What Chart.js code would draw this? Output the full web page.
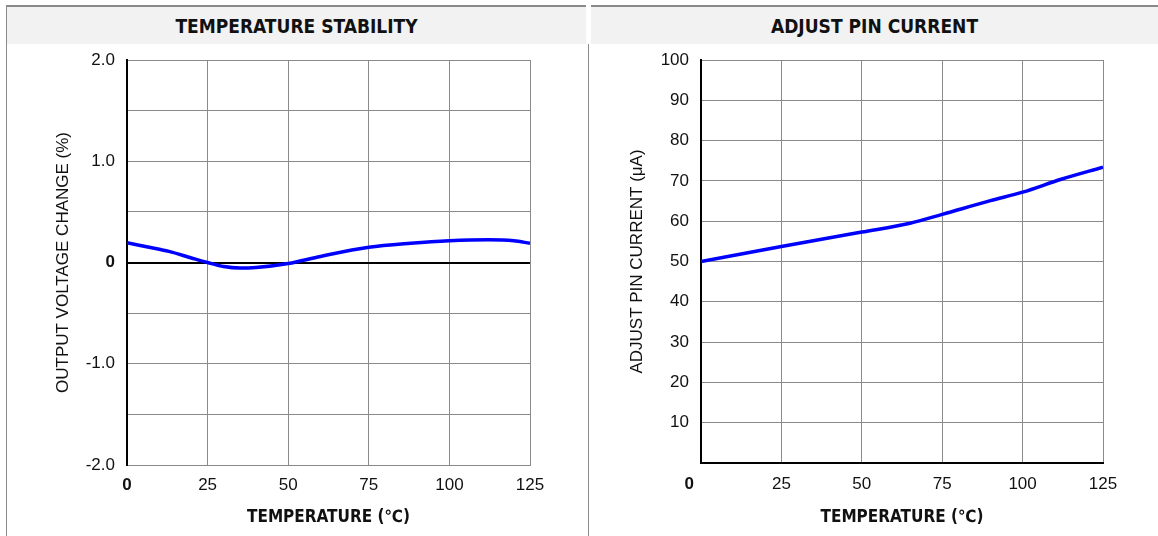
<!DOCTYPE html>
<html>
<head>
<meta charset="utf-8">
<script src="https://cdn.jsdelivr.net/npm/chart.js@4"></script>
<style>
  body { margin: 0; background: #fff; width: 1158px; height: 536px; position: relative; overflow: hidden; }
  .panel { position: absolute; top: 5px; bottom: 0; }
  #p1 { left: 6px; width: 579px; border-left: 1px solid #8a8a8a; }
  #p2 { left: 591px; width: 567px; }
  .head {
    height: 37px; border-top: 2px solid #8a8a8a; background: #f2f2f2;
    text-align: center; color: #111;
    font: bold 19px "Liberation Sans Narrow", "DejaVu Sans Condensed", sans-serif;
    line-height: 38px;
  }
  .panel canvas { position: absolute; top: 39px; left: 0; }
  #divider { position: absolute; left: 588px; top: 44px; bottom: 0; border-left: 1px solid #8a8a8a; }
</style>
</head>
<body>
<div class="panel" id="p1"><div class="head">TEMPERATURE STABILITY</div><canvas id="stabChart" width="578" height="492"></canvas></div>
<div id="divider"></div>
<div class="panel" id="p2"><div class="head">ADJUST PIN CURRENT</div><canvas id="pinChart" width="567" height="492"></canvas></div>
<script>
// temperature stability curve
const stabTemp = [0, 10, 13, 20, 25, 30, 35, 40, 50, 60, 75, 88, 100, 112, 120, 125];
const stabChange = [0.195, 0.13, 0.11, 0.045, 0.0, -0.04, -0.055, -0.05, -0.01, 0.06, 0.15, 0.19, 0.215, 0.225, 0.215, 0.19];

// adjust pin current curve
const pinTemp = [0, 25, 50, 65, 75, 90, 100, 112, 125];
const pinCurrent = [50, 53.7, 57.3, 59.5, 61.7, 65.1, 67.2, 70.4, 73.4];

const xTicks = [0, 25, 50, 75, 100, 125];

const tickFont = "'Liberation Sans', Arial, sans-serif";
const narrowFont = "'Liberation Sans Narrow', 'DejaVu Sans Condensed', sans-serif";
const GRID = "#8a8a8a";

function boldZero(ctx) {
  return { family: tickFont, size: 17, weight: ctx.tick && ctx.tick.value === 0 ? "bold" : "normal" };
}

function makeChart(id, temps, values, opts) {
  return new Chart(document.getElementById(id), {
    type: "line",
    data: {
      datasets: [{
        data: temps.map((t, i) => ({ x: t, y: values[i] })),
        borderColor: "#0000ff",
        borderWidth: 3.5,
        pointRadius: 0,
        cubicInterpolationMode: "monotone",
        fill: false
      }]
    },
    options: {
      responsive: false,
      animation: false,
      layout: { padding: { left: 0, right: 55, top: 16, bottom: 0 } },
      plugins: { legend: { display: false }, tooltip: { enabled: false } },
      scales: {
        x: {
          type: "linear",
          min: 0, max: 125,
          afterBuildTicks: s => { s.ticks = xTicks.map(v => ({ value: v })); },
          afterFit: s => { s.height = opts.xHeight; s.paddingLeft = 0; s.paddingRight = 0; },
          grid: {
            drawTicks: false,
            color: c => c.tick && c.tick.value === 0 ? "#000" : GRID,
            lineWidth: c => c.tick && c.tick.value === 0 ? 2 : 1
          },
          border: { color: opts.xBorder, width: opts.xBorderWidth },
          ticks: {
            padding: opts.xPad,
            color: "#111",
            maxRotation: 0,
            font: boldZero,
            callback: opts.xLabel
          },
          title: {
            display: true,
            text: "TEMPERATURE (℃)",
            color: "#111",
            font: { family: narrowFont, size: 17, weight: "bold" },
            padding: { top: 0, bottom: 8 }
          }
        },
        y: {
          min: opts.yMin, max: opts.yMax,
          afterBuildTicks: s => { s.ticks = opts.yTicks.map(v => ({ value: v })); },
          afterFit: s => { s.width = opts.yWidth; s.paddingTop = 0; s.paddingBottom = 0; },
          grid: {
            drawTicks: false,
            color: c => c.tick && c.tick.value === 0 ? "#000" : GRID,
            lineWidth: c => c.tick && c.tick.value === 0 ? 2 : 1
          },
          border: { color: "#000", width: 2 },
          ticks: {
            padding: 12,
            color: "#111",
            font: boldZero,
            callback: opts.yLabel
          },
          title: {
            display: true,
            text: opts.yTitle,
            color: "#111",
            font: { family: tickFont, size: 17 },
            padding: { top: opts.yTitlePad, bottom: 0 }
          }
        }
      }
    }
  });
}

const stabTicks = [-2, -1.5, -1, -0.5, 0, 0.5, 1, 1.5, 2];
makeChart("stabChart", stabTemp, stabChange, {
  yMin: -2, yMax: 2,
  yTicks: stabTicks,
  yLabel: v => v === 0 ? "0" : (Number.isInteger(v) ? v.toFixed(1) : ""),
  yTitle: "OUTPUT VOLTAGE CHANGE (%)",
  yWidth: 120, yTitlePad: 46,
  xHeight: 71, xPad: 10,
  xBorder: GRID, xBorderWidth: 1,
  xLabel: v => String(v)
});

const pinTicks = [0, 10, 20, 30, 40, 50, 60, 70, 80, 90, 100];
makeChart("pinChart", pinTemp, pinCurrent, {
  yMin: 0, yMax: 100,
  yTicks: pinTicks,
  yLabel: v => v === 0 ? "" : String(v),
  yTitle: "ADJUST PIN CURRENT (μA)",
  yWidth: 110, yTitlePad: 36,
  xHeight: 73, xPad: 11,
  xBorder: "#000", xBorderWidth: 2,
  // the zero label sits left of the axis in the original
  xLabel: v => v === 0 ? "0     " : String(v)
});
</script>
</body>
</html>
